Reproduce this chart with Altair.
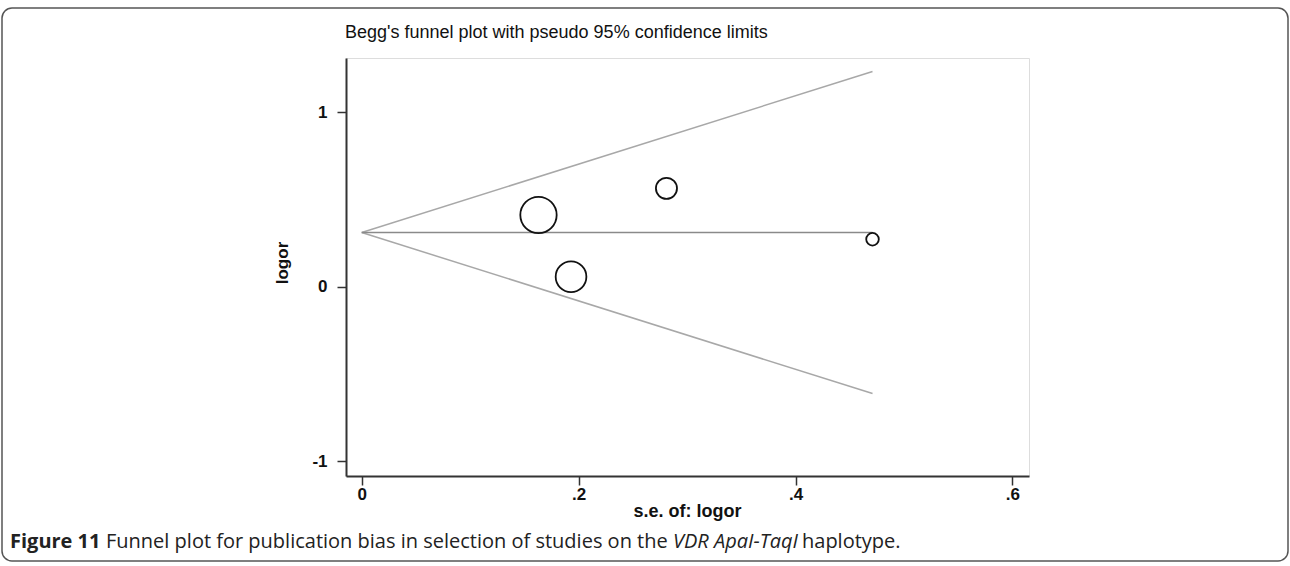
import altair as alt
import numpy as np
import pandas as pd

# Study-level estimates: standard error of log odds ratio and log odds ratio
se = [0.163, 0.193, 0.281, 0.471]
logor = [0.411, 0.057, 0.564, 0.272]

x_ticks = [0, 0.2, 0.4, 0.6]
y_ticks = [-1, 0, 1]

title_text = "Begg's funnel plot with pseudo 95% confidence limits"
x_title = "s.e. of: logor"
y_title = "logor"

# Fixed-effect pooled estimate (inverse-variance weights)
w = 1.0 / np.square(se)
pooled = float(np.sum(w * np.array(logor)) / np.sum(w))
se_max = max(se)

studies = pd.DataFrame({"se": se, "logor": logor})

funnel = pd.DataFrame({
    "se": [0, se_max, 0, se_max, 0, se_max],
    "logor": [pooled, pooled + 1.96 * se_max,
              pooled, pooled - 1.96 * se_max,
              pooled, pooled],
    "kind": ["upper", "upper", "lower", "lower", "pooled", "pooled"],
})

W, H = 683, 418
x_scale = alt.Scale(domain=[-0.0145, 0.6153], nice=False, zero=False)
y_scale = alt.Scale(domain=[-1.085, 1.311], nice=False, zero=False)

x_axis = alt.Axis(values=x_ticks, title=None, grid=False,
                  labelExpr="datum.value == 0 ? '0' : replace(format(datum.value, '.1f'), '0.', '.')",
                  tickSize=9, tickWidth=1.5, tickColor="#333",
                  domainWidth=2, domainColor="#333",
                  labelFont="Liberation Sans", labelFontSize=17, labelFontWeight="bold",
                  labelColor="#111", labelPadding=1)
y_axis = alt.Axis(values=y_ticks, title=None, grid=False,
                  labelExpr="replace(datum.label, '\u2212', '-')",
                  tickSize=9, tickWidth=1.5, tickColor="#333",
                  domainWidth=2, domainColor="#333",
                  labelFont="Liberation Sans", labelFontSize=17, labelFontWeight="bold",
                  labelColor="#111", labelPadding=10)

base_x = alt.X("se:Q", scale=x_scale, axis=x_axis)
base_y = alt.Y("logor:Q", scale=y_scale, axis=y_axis)

limits = alt.Chart(funnel).transform_filter("datum.kind != 'pooled'").mark_line(
    color="#a8a8a8", strokeWidth=1.5
).encode(x=base_x, y=base_y, detail="kind:N")

center = alt.Chart(funnel).transform_filter("datum.kind == 'pooled'").mark_line(
    color="#8a8a8a", strokeWidth=1.5
).encode(x=base_x, y=base_y)

points = alt.Chart(studies).transform_calculate(
    w="1 / (datum.se * datum.se)"
).mark_point(shape="circle", filled=False, color="#111", strokeWidth=1.8, opacity=1).encode(
    x=base_x, y=base_y,
    size=alt.Size("w:Q", scale=alt.Scale(domain=[0, 37.6], range=[0, 1320]), legend=None),
)

one = pd.DataFrame({"k": [0]})


def label(text, x, y, **kw):
    return alt.Chart(one).mark_text(**kw).encode(
        x=alt.value(x), y=alt.value(y), text=alt.value(text)
    )


title = label(title_text, -1, -25, align="left", baseline="middle",
              font="Liberation Sans", fontSize=18, color="#111")
xlab = label(x_title, W / 2, 454, align="center", baseline="middle",
             font="Liberation Sans", fontSize=18, fontWeight="bold", color="#111")
ylab = label(y_title, -63, 205, align="center", baseline="middle", angle=270,
             font="Liberation Sans", fontSize=17, fontWeight="bold", color="#111")

# Caption pieces laid end to end (left edges in pixels from the plot's left edge)
cap_y = 484
cap_font = dict(baseline="middle", align="left", font="Open Sans", fontSize=20, color="#222")
cap1 = label("Figure 11", -336, cap_y, fontWeight="bold", **cap_font)
cap2 = label("Funnel plot for publication bias in selection of studies on the", -240, cap_y, **cap_font)
cap3 = label("VDR ApaI-TaqI", 327, cap_y, fontStyle="italic", **cap_font)
cap4 = label("haplotype.", 456, cap_y, **cap_font)

frame = alt.Chart(one).mark_rect(
    fillOpacity=0, stroke="#555", strokeWidth=1.5, cornerRadius=10
).encode(x=alt.value(-344), x2=alt.value(942), y=alt.value(-50), y2=alt.value(503))

chart = alt.layer(
    frame, limits, center, points, title, xlab, ylab, cap1, cap2, cap3, cap4
).properties(
    width=W, height=H,
    autosize=alt.AutoSizeParams(type="none"),
    padding={"left": 346, "top": 58, "right": 1290 - 346 - W, "bottom": 566 - 58 - H},
).configure_view(stroke=None).configure(background="white")

chart.save("out.html", embed_options={"renderer": "svg", "actions": False})
